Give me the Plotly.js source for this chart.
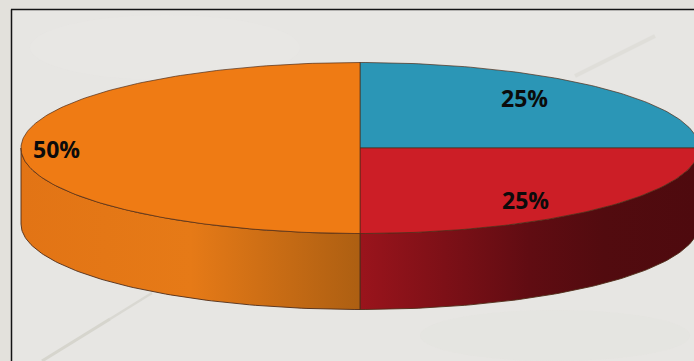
<!DOCTYPE html>
<html>
<head>
<meta charset="utf-8">
<script src="https://cdn.plot.ly/plotly-3.0.1.min.js"></script>
<style>html,body{margin:0;padding:0;background:#e7e6e3;overflow:hidden}#chart{width:694px;height:361px}</style>
</head>
<body>
<div id="chart"></div>
<script>
// Data
const categories = ['Blue share', 'Red share', 'Orange share'];
const shares = [25, 25, 50];
const topColors = ['#2b96b6', '#cc1e26', '#ef7b14'];
const sideGradients = [
  null,
  [[0, '#9a141c'], [0.5, '#600c12'], [0.72, '#520b0f'], [1, '#4e0a0e']],
  [[0, '#e27415'], [0.5, '#e67a17'], [1, '#ad5f12']]
];
const labelPoints = [[524, 97.5], [525, 200], [56.5, 149]];

// Geometry of the drawn disc
const cx = 360, cy = 148, rx = 339, ry = 85.5, depth = 76;
const edge = '#4f2d18';

function pt(deg, drop) {
  const a = deg * Math.PI / 180;
  return [cx + rx * Math.sin(a), cy - ry * Math.cos(a) + (drop || 0)];
}
function arc(from, to, drop) {
  const out = [];
  const n = Math.max(2, Math.ceil(Math.abs(to - from)));
  for (let i = 0; i <= n; i++) out.push(pt(from + (to - from) * i / n, drop));
  return out;
}

const total = shares.reduce((s, v) => s + v, 0);
const traces = [];
let start = 0;
const wedges = shares.map((v, i) => {
  const w = { from: start, to: start + v / total * 360, i };
  start = w.to;
  return w;
});

// Visible side wall (front half: 90 to 270 degrees)
wedges.forEach(w => {
  const a = Math.max(w.from, 90), b = Math.min(w.to, 270);
  if (b <= a) return;
  const poly = arc(a, b, 0).concat(arc(b, a, depth));
  poly.push(poly[0]);
  traces.push({
    type: 'scatter', mode: 'lines', name: categories[w.i] + ' side',
    x: poly.map(p => p[0]), y: poly.map(p => p[1]),
    fill: 'toself', fillcolor: topColors[w.i],
    fillgradient: { type: 'horizontal', colorscale: sideGradients[w.i] },
    line: { color: edge, width: 0.9 }, hoverinfo: 'skip', showlegend: false
  });
});

// Top face
wedges.forEach(w => {
  const poly = [[cx, cy]].concat(arc(w.from, w.to, 0));
  poly.push([cx, cy]);
  traces.push({
    type: 'scatter', mode: 'lines', name: categories[w.i],
    x: poly.map(p => p[0]), y: poly.map(p => p[1]),
    fill: 'toself', fillcolor: topColors[w.i],
    line: { color: edge, width: 0.7 }, hoverinfo: 'skip', showlegend: false
  });
});

const annotations = shares.map((v, i) => ({
  x: labelPoints[i][0], y: labelPoints[i][1], xref: 'x', yref: 'y',
  text: '<b>' + v + '%</b>', showarrow: false,
  font: { family: 'Open Sans, sans-serif', size: 23, color: '#0b0b0b' }
}));

const streak = (x0, y0, x1, y1, w, o) => ({
  type: 'line', xref: 'x', yref: 'y', x0, y0, x1, y1, layer: 'below',
  line: { color: '#cfcec5', width: w }, opacity: o
});
const blotch = (x0, y0, x1, y1, c, o) => ({
  type: 'circle', xref: 'x', yref: 'y', x0, y0, x1, y1, layer: 'below',
  fillcolor: c, opacity: o, line: { width: 0 }
});
const strip = (x0, y0, x1, y1) => ({
  type: 'rect', xref: 'x', yref: 'y', x0, y0, x1, y1, layer: 'below',
  fillcolor: '#e3e1dc', line: { width: 0 }
});

const shapes = [
  strip(0, 0, 11, 361),
  strip(0, 0, 694, 9),
  blotch(30, 15, 300, 80, '#e9e8e6', 0.5),
  blotch(420, 310, 690, 361, '#e3e2dd', 0.35),
  streak(42, 361, 110, 319, 3, 0.7),
  streak(110, 319, 152, 293, 2.5, 0.55),
  streak(575, 76, 655, 36, 4, 0.3),
  { type: 'line', xref: 'x', yref: 'y', x0: 11.5, y0: 361, x1: 11.5, y1: 9.5, line: { color: '#141414', width: 1.5 } },
  { type: 'line', xref: 'x', yref: 'y', x0: 11, y0: 9.5, x1: 694, y1: 9.5, line: { color: '#141414', width: 1.5 } }
];

Plotly.newPlot('chart', traces, {
  width: 694, height: 361,
  margin: { l: 0, r: 0, t: 0, b: 0 },
  paper_bgcolor: '#e7e6e3', plot_bgcolor: 'rgba(0,0,0,0)',
  xaxis: { range: [0, 694], visible: false, fixedrange: true },
  yaxis: { range: [361, 0], visible: false, fixedrange: true },
  showlegend: false, annotations, shapes
}, { displayModeBar: false, staticPlot: true });
</script>
</body>
</html>
